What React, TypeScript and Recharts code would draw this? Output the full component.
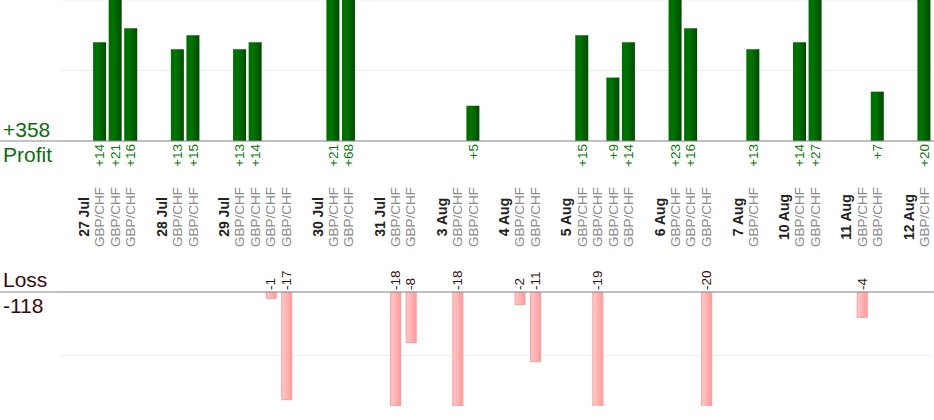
import React from 'react';
import { BarChart, Bar, XAxis, YAxis, CartesianGrid } from 'recharts';

// Trading days and the result of each GBP/CHF trade (in pips), in order
const days = ['27 Jul', '28 Jul', '29 Jul', '30 Jul', '31 Jul', '3 Aug', '4 Aug', '5 Aug', '6 Aug', '7 Aug', '10 Aug', '11 Aug', '12 Aug'];
const tradesByDay: number[][] = [
  [14, 21, 16],
  [13, 15],
  [13, 14, -1, -17],
  [21, 68],
  [-18, -8],
  [-18, 5],
  [-2, -11],
  [15, -19, 9, 14],
  [23, 16, -20],
  [13],
  [14, 27],
  [-4, 7],
  [20]
];
const symbol = 'GBP/CHF';

const profitTicks = [0, 10, 20];
const lossTicks = [-10, 0];

const FONT = '"Liberation Sans", Arial, sans-serif';
const W = 934;

interface Row {
  key: number;
  kind: 'gap' | 'day' | 'trade';
  label: string;
  profit: number | null;
  loss: number | null;
}

// one slot per gap, per day header and per trade
const rows: Row[] = [];
days.forEach((day, d) => {
  rows.push({ key: rows.length, kind: 'gap', label: '', profit: null, loss: null });
  rows.push({ key: rows.length, kind: 'day', label: day, profit: null, loss: null });
  tradesByDay[d].forEach((v) => {
    rows.push({
      key: rows.length,
      kind: 'trade',
      label: symbol,
      profit: v > 0 ? v : null,
      loss: v < 0 ? v : null
    });
  });
});

const totalProfit = rows.reduce((s, r) => s + (r.profit || 0), 0);
const totalLoss = rows.reduce((s, r) => s + (r.loss || 0), 0);

// grid lines only at the given ticks, placed through the axis scale
const gridAt = (ticks: number[]) => (props: any) => {
  const scale = props?.yAxis?.scale;
  if (!scale) return [];
  const fn = typeof scale === 'function' ? scale : scale.map || scale.apply;
  return ticks.map((t) => (typeof scale === 'function' ? scale(t) : fn.call(scale, t)));
};

const ProfitAxisTick = (props: any) => {
  const { y, payload } = props;
  if (payload.value !== 0) return <g />;
  return (
    <g>
      <line x1={0} x2={W} y1={y} y2={y} stroke="#888" strokeWidth={1} />
      <text x={3} y={y - 4} fill="#0a6e0a" fontSize={21} fontFamily={FONT}>+{totalProfit}</text>
      <text x={3} y={y + 21} fill="#0a6e0a" fontSize={21} fontFamily={FONT}>Profit</text>
    </g>
  );
};

const LossAxisTick = (props: any) => {
  const { y, payload } = props;
  if (payload.value !== 0) return <g />;
  return (
    <g>
      <line x1={0} x2={W} y1={y} y2={y} stroke="#888" strokeWidth={1} />
      <text x={3} y={y - 5} fill="#3d0a0a" fontSize={21} fontFamily={FONT}>Loss</text>
      <text x={3} y={y + 21} fill="#3d0a0a" fontSize={21} fontFamily={FONT}>{totalLoss}</text>
    </g>
  );
};

const SlotTick = (props: any) => {
  const { x, y, payload } = props;
  const row = rows[payload.value];
  if (!row) return <g />;
  return (
    <g>
      {row.profit != null && (
        <text
          transform={`translate(${x},${y + 3}) rotate(-90)`}
          textAnchor="end"
          dominantBaseline="central"
          fill="#0b780b"
          fontSize={13.5}
          fontFamily={FONT}
        >
          +{row.profit}
        </text>
      )}
      {row.kind !== 'gap' && (
        <text
          transform={`translate(${x},${y + 76}) rotate(-90)`}
          textAnchor="middle"
          dominantBaseline="central"
          fill={row.kind === 'day' ? '#222' : '#8a8a8a'}
          fontSize={row.kind === 'day' ? 14 : 13.5}
          fontWeight={row.kind === 'day' ? 'bold' : 'normal'}
          fontFamily={FONT}
        >
          {row.label}
        </text>
      )}
    </g>
  );
};

const LossTick = (props: any) => {
  const { x, y, payload } = props;
  const row = rows[payload.value];
  if (!row || row.loss == null) return <g />;
  return (
    <text
      transform={`translate(${x},${y - 2}) rotate(-90)`}
      textAnchor="start"
      dominantBaseline="central"
      fill="#3d0a0a"
      fontSize={13.5}
      fontFamily={FONT}
    >
      {row.loss}
    </text>
  );
};

export default function App() {
  return (
    <div style={{ position: 'absolute', left: 0, top: 0, width: W, height: 420, background: '#fff' }}>
      <svg width={0} height={0} style={{ position: 'absolute' }}>
        <defs>
          <linearGradient id="profitFill" x1="0" y1="0" x2="1" y2="0">
            <stop offset="0%" stopColor="#006c00" />
            <stop offset="35%" stopColor="#007600" />
            <stop offset="100%" stopColor="#004a00" />
          </linearGradient>
          <linearGradient id="lossFill" x1="0" y1="0" x2="1" y2="0">
            <stop offset="0%" stopColor="#ffcaca" />
            <stop offset="100%" stopColor="#ff9a9a" />
          </linearGradient>
        </defs>
      </svg>

      <div style={{ position: 'absolute', left: 0, top: 0 }}>
        <BarChart width={W} height={260} data={rows} margin={{ top: 0, right: 2, bottom: 0, left: 0 }}>
          <CartesianGrid
            horizontal
            vertical={false}
            stroke="#eee"
            horizontalCoordinatesGenerator={gridAt(profitTicks)}
          />
          <XAxis
            dataKey="key"
            type="category"
            interval={0}
            height={119}
            axisLine={false}
            tickLine={false}
            tickSize={0}
            tickMargin={0}
            tick={<SlotTick />}
          />
          <YAxis
            width={61}
            domain={[0, 20]}
            ticks={profitTicks}
            allowDataOverflow
            axisLine={false}
            tickLine={false}
            tick={<ProfitAxisTick />}
          />
          <Bar dataKey="profit" fill="url(#profitFill)" barSize={13} isAnimationActive={false} />
        </BarChart>
      </div>

      <div style={{ position: 'absolute', left: 0, top: 262 }}>
        <BarChart width={W} height={158} data={rows} margin={{ top: 0, right: 2, bottom: 14, left: 0 }}>
          <CartesianGrid
            horizontal
            vertical={false}
            stroke="#eee"
            horizontalCoordinatesGenerator={gridAt(lossTicks)}
          />
          <XAxis
            dataKey="key"
            type="category"
            orientation="top"
            interval={0}
            height={30}
            axisLine={false}
            tickLine={false}
            tickSize={0}
            tickMargin={0}
            tick={<LossTick />}
          />
          <YAxis
            width={61}
            domain={[-18, 0]}
            ticks={lossTicks}
            allowDataOverflow
            axisLine={false}
            tickLine={false}
            tick={<LossAxisTick />}
          />
          <Bar
            dataKey="loss"
            fill="url(#lossFill)"
            stroke="#ff9999"
            strokeWidth={1}
            barSize={10}
            isAnimationActive={false}
          />
        </BarChart>
      </div>
    </div>
  );
}
